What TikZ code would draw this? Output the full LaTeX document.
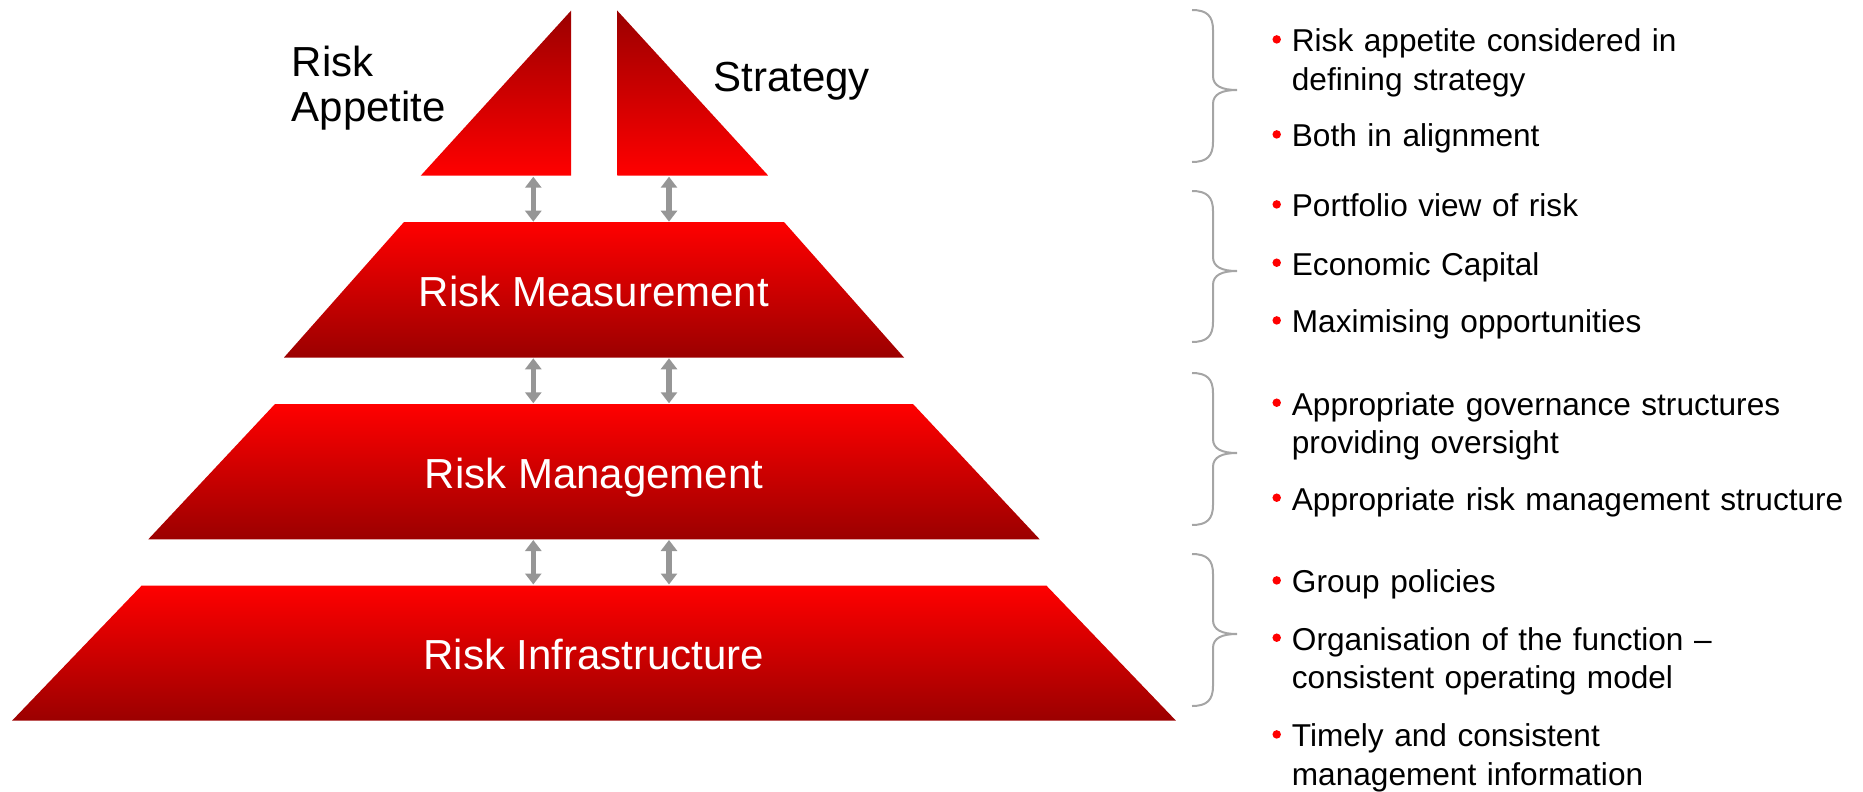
\documentclass[tikz,border=0pt]{standalone}
\usepackage{fontspec}
\setmainfont{Liberation Sans}
\usetikzlibrary{arrows.meta}
\definecolor{brightred}{RGB}{255,0,0}
\definecolor{deepred}{RGB}{155,0,0}
\definecolor{arrowgray}{RGB}{150,150,150}
\definecolor{bracegray}{RGB}{165,165,165}
\begin{document}
\begin{tikzpicture}[x=1pt,y=-1pt,
  tier/.style={top color=brightred, bottom color=deepred, draw=none},
  peak/.style={top color=deepred, bottom color=brightred, draw=none},
  tierlabel/.style={text=white, font=\fontsize{42}{45}\selectfont, anchor=base, inner sep=0pt},
  sidelabel/.style={text=black, font=\fontsize{42}{45}\selectfont, anchor=base west, inner sep=0pt, text width=200pt, align=left},
  link/.style={draw=arrowgray, line width=5.5pt, {Triangle[width=16pt,length=11pt]}-{Triangle[width=16pt,length=11pt]}},
  bracket/.style={draw=bracegray, line width=2pt},
  item/.style={font=\fontsize{31.6}{38.3}\selectfont, anchor=base west, inner sep=0pt, text width=560pt, align=left},
  dot/.style={circle, fill=brightred, draw=none, inner sep=0pt, minimum size=8.5pt}
]
\useasboundingbox (0,0) rectangle (1863,792);

% apex: two half triangles
\path[peak] (420.7,175.7) -- (571,175.7) -- (571,10.7) -- cycle;
\path[peak] (617.3,10.7) -- (617.3,175.7) -- (768.3,175.7) -- cycle;
\node[sidelabel] (appetite) at (291.7,76.7) {Risk\\Appetite};
\node[sidelabel] (strategy) at (713.3,91.7) {Strategy};

% pyramid tiers
\path[tier] (404,222) -- (784,222) -- (904,357.5) -- (284,357.5) -- cycle;
\path[tier] (275,404) -- (913,404) -- (1039.7,539.3) -- (148.3,539.3) -- cycle;
\path[tier] (141.7,585.5) -- (1046.3,585.5) -- (1176,720.7) -- (12,720.7) -- cycle;
\node[tierlabel] (measure) at (594,306) {Risk Measurement};
\node[tierlabel] (manage) at (594,488.3) {Risk Management};
\node[tierlabel] (infra) at (594,669) {Risk Infrastructure};

% link end points between the levels
\coordinate (l1a) at (533.3,176.7); \coordinate (l1b) at (533.3,221.7);
\coordinate (r1a) at (669,176.7);   \coordinate (r1b) at (669,221.7);
\coordinate (l2a) at (533.3,358.3); \coordinate (l2b) at (533.3,403.3);
\coordinate (r2a) at (669,358.3);   \coordinate (r2b) at (669,403.3);
\coordinate (l3a) at (533.3,540);   \coordinate (l3b) at (533.3,584.5);
\coordinate (r3a) at (669,540);     \coordinate (r3b) at (669,584.5);
\draw[link] (l1a) -- (l1b);
\draw[link] (r1a) -- (r1b);
\draw[link] (l2a) -- (l2b);
\draw[link] (r2a) -- (r2b);
\draw[link] (l3a) -- (l3b);
\draw[link] (r3a) -- (r3b);

% right-hand braces: top / tip / bottom
\foreach \t/\m/\b in {10/90/162, 191/271/342, 373/453/525, 554/634/706}{
  \draw[bracket] (1192,\t) .. controls (1207,\t) and (1213,\t+6) .. (1213,\t+20)
    -- (1213,\m-14) .. controls (1213,\m-4) and (1222,\m) .. (1237,\m)
    .. controls (1222,\m) and (1213,\m+4) .. (1213,\m+14)
    -- (1213,\b-20) .. controls (1213,\b-6) and (1207,\b) .. (1192,\b);
}

% bullet points
\foreach \n/\y/\txt in {
  i1/51.7/{Risk appetite considered in\\defining strategy},
  i2/146.7/{Both in alignment},
  i3/216.7/{Portfolio view of risk},
  i4/275/{Economic Capital},
  i5/332.7/{Maximising opportunities},
  i6/415/{Appropriate governance structures\\providing oversight},
  i7/510/{Appropriate risk management structure},
  i8/592.7/{Group policies},
  i9/650/{Organisation of the function --\\consistent operating model},
  i10/746.7/{Timely and consistent\\management information}}{
  \node[dot] (\n-dot) at (1276.7,\y-12.3) {};
  \node[item] (\n) at (1291.7,\y) {\txt};
}
\end{tikzpicture}
\end{document}
